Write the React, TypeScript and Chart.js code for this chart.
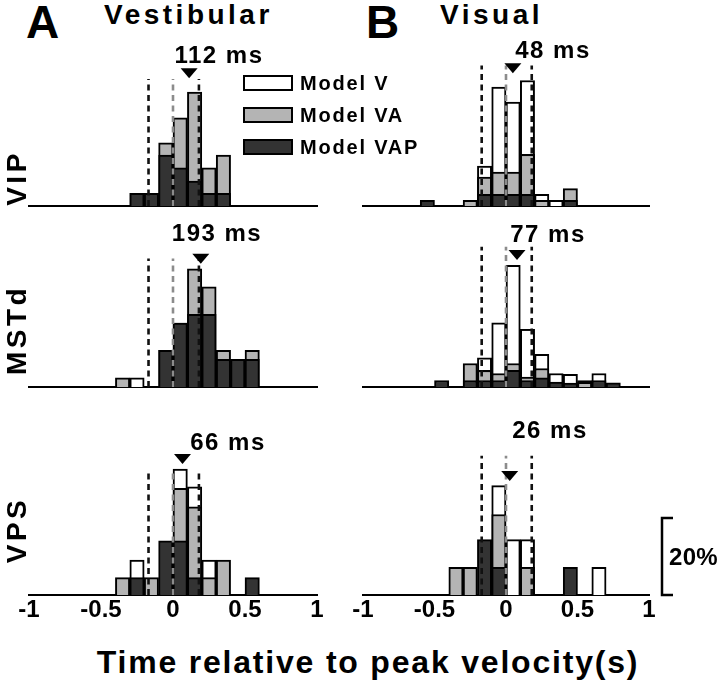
import React, { useEffect, useRef } from "react";
import { Chart, registerables } from "chart.js";
Chart.register(...registerables);

// ---------- data ----------
const BIN_CENTERS = [-0.95, -0.85, -0.75, -0.65, -0.55, -0.45, -0.35, -0.25, -0.15, -0.05, 0.05, 0.15, 0.25, 0.35, 0.45, 0.55, 0.65, 0.75, 0.85, 0.95];
const X_TICKS = [-1, -0.5, 0, 0.5, 1];
const SERIES_NAMES = ["Model V", "Model VA", "Model VAP"];
const COLUMN_TITLES = ["Vestibular", "Visual"];
const PANEL_LETTERS = ["A", "B"];
const AREA_NAMES = ["VIP", "MSTd", "VPS"];
const LATENCY_VEST_MS = [112, 193, 66];
const LATENCY_VIS_MS = [48, 77, 26];
const BOUNDARIES = [-0.17, 0, 0.18];
const SCALE_BAR_PCT = 20;
const X_TITLE = "Time relative to peak velocity(s)";
const _ = null;

// Vestibular column (percent of neurons per 100 ms bin)
const VIP_VEST_V = [_, _, _, _, _, _, _, _, _, _, _, _, _, _, _, _, _, _, _, _];
const VIP_VEST_VA = [_, _, _, _, _, _, _, 3.3, 3.3, 16.4, 22.9, 29.6, 9.9, 13.2, _, _, _, _, _, _];
const VIP_VEST_VAP = [_, _, _, _, _, _, _, 3.3, 3.3, 13.2, 9.9, 6.5, 3.3, 3.3, _, _, _, _, _, _];

const MSTD_VEST_V = [_, _, _, _, _, _, _, 2.4, _, _, _, _, _, _, _, _, _, _, _, _];
const MSTD_VEST_VA = [_, _, _, _, _, _, 2.4, _, _, 9.5, 16.6, 30.7, 26.0, 9.5, 7.2, 9.5, _, _, _, _];
const MSTD_VEST_VAP = [_, _, _, _, _, _, _, _, _, 9.5, 16.6, 18.9, 18.9, 7.2, 7.2, 7.2, _, _, _, _];

const VPS_VEST_V = [_, _, _, _, _, _, _, 9.1, _, _, 32.7, 28.1, 9.1, _, _, _, _, _, _, _];
const VPS_VEST_VA = [_, _, _, _, _, _, 4.5, _, 4.5, _, 27.7, 22.9, 4.5, 9.1, _, _, _, _, _, _];
const VPS_VEST_VAP = [_, _, _, _, _, _, _, 4.5, _, 14.1, 14.1, 4.5, _, _, _, 4.5, _, _, _, _];

// Visual column
const VIP_VIS_V = [_, _, _, _, _, _, _, _, 10.4, 30.9, 27.0, 32.6, 3.0, 1.5, _, _, _, _, _, _];
const VIP_VIS_VA = [_, _, _, _, _, _, _, 1.5, 7.5, 8.8, 8.8, 13.4, 1.5, _, 4.5, _, _, _, _, _];
const VIP_VIS_VAP = [_, _, _, _, 1.5, _, _, _, 3.0, 3.0, 3.0, 3.0, _, _, 1.5, _, _, _, _, _];

const MSTD_VIS_V = [_, _, _, _, _, _, _, _, 7.6, 16.7, 31.6, 15.0, 8.5, 3.5, 3.3, 1.7, 3.5, _, _, _];
const MSTD_VIS_VA = [_, _, _, _, _, _, _, 6.1, 4.3, 3.5, 6.1, 2.6, 4.8, _, _, 1.2, _, _, _, _];
const MSTD_VIS_VAP = [_, _, _, _, _, 1.7, _, 1.7, 1.7, 1.7, 4.3, 1.7, 2.4, 1.3, 1.0, _, 1.7, 1.1, _, _];

const VPS_VIS_V = [_, _, _, _, _, _, _, _, _, 28.4, 14.4, 14.4, _, _, _, _, 7.2, _, _, _];
const VPS_VIS_VA = [_, _, _, _, _, _, 7.2, 7.2, _, 20.9, _, 7.2, _, _, _, _, _, _, _, _];
const VPS_VIS_VAP = [_, _, _, _, _, _, _, _, 14.4, 7.2, _, _, _, _, 7.2, _, _, _, _, _];

// ---------- layout / style ----------
const FONT = '"Liberation Sans", Arial, Helvetica, sans-serif';
const PX_PER_PCT = 3.85;
const AREA_H = 150;
const AXIS_H = 30;
const PAD = 30;
const COLS = [
  { left: 29.3, width: 288 },
  { left: 362.7, width: 286 },
];
const BASELINES = [206, 387, 595];
const COLORS = { V: "#ffffff", VA: "#b4b4b4", VAP: "#333333" };

type PanelCfg = {
  row: number;
  col: number;
  v: (number | null)[];
  va: (number | null)[];
  vap: (number | null)[];
  latency: number;
  markerTip: number;
  lineTop: number;
  scaleBar?: boolean;
};

const PANELS: PanelCfg[] = [
  { row: 0, col: 0, v: VIP_VEST_V, va: VIP_VEST_VA, vap: VIP_VEST_VAP, latency: LATENCY_VEST_MS[0], markerTip: 33.2, lineTop: 33 },
  { row: 1, col: 0, v: MSTD_VEST_V, va: MSTD_VEST_VA, vap: MSTD_VEST_VAP, latency: LATENCY_VEST_MS[1], markerTip: 32, lineTop: 33.4 },
  { row: 2, col: 0, v: VPS_VEST_V, va: VPS_VEST_VA, vap: VPS_VEST_VAP, latency: LATENCY_VEST_MS[2], markerTip: 34, lineTop: 32.7 },
  { row: 0, col: 1, v: VIP_VIS_V, va: VIP_VIS_VA, vap: VIP_VIS_VAP, latency: LATENCY_VIS_MS[0], markerTip: 34.5, lineTop: 36.5 },
  { row: 1, col: 1, v: MSTD_VIS_V, va: MSTD_VIS_VA, vap: MSTD_VIS_VAP, latency: LATENCY_VIS_MS[1], markerTip: 33, lineTop: 36.4 },
  { row: 2, col: 1, v: VPS_VIS_V, va: VPS_VIS_VA, vap: VPS_VIS_VAP, latency: LATENCY_VIS_MS[2], markerTip: 29.6, lineTop: 36.2, scaleBar: true },
];

const overlayPlugin = {
  id: "overlay",
  afterDatasetsDraw(chart: any, _args: any, opts: any) {
    const { ctx } = chart;
    const x = chart.scales.x;
    const y = chart.scales.y;
    ctx.save();
    BOUNDARIES.forEach((b, i) => {
      ctx.strokeStyle = i === 1 ? "#8c8c8c" : "#111111";
      ctx.lineWidth = 2.6;
      ctx.setLineDash([6, 4.5]);
      const px = x.getPixelForValue(b);
      ctx.beginPath();
      ctx.moveTo(px, y.getPixelForValue(0));
      ctx.lineTo(px, y.getPixelForValue(opts.lineTop));
      ctx.stroke();
    });
    ctx.setLineDash([]);
    const tx = x.getPixelForValue(opts.latency / 1000);
    const ty = y.getPixelForValue(opts.markerTip);
    ctx.fillStyle = "#000";
    ctx.beginPath();
    ctx.moveTo(tx, ty);
    ctx.lineTo(tx - 8.5, ty - 10);
    ctx.lineTo(tx + 8.5, ty - 10);
    ctx.closePath();
    ctx.fill();
    if (opts.scaleBar) {
      const bx = chart.chartArea.right + 13;
      const y0 = y.getPixelForValue(0);
      const y1 = y.getPixelForValue(SCALE_BAR_PCT);
      ctx.strokeStyle = "#000";
      ctx.lineWidth = 2.5;
      ctx.beginPath();
      ctx.moveTo(bx + 11, y1);
      ctx.lineTo(bx, y1);
      ctx.lineTo(bx, y0);
      ctx.lineTo(bx + 11, y0);
      ctx.stroke();
    }
    ctx.restore();
  },
};

function toXY(arr: (number | null)[]) {
  return BIN_CENTERS.map((x, i) => ({ x, y: arr[i] }));
}

function Panel({ cfg }: { cfg: PanelCfg }) {
  const ref = useRef<HTMLCanvasElement | null>(null);
  const col = COLS[cfg.col];
  const w = col.width + PAD * 2;
  const h = AREA_H + AXIS_H;
  const left = col.left - PAD;
  const top = BASELINES[cfg.row] - AREA_H;
  const isBottom = cfg.row === 2;
  useEffect(() => {
    const common = {
      borderColor: "#000",
      borderWidth: 2,
      grouped: false,
      barPercentage: 1,
      categoryPercentage: 1,
      borderSkipped: "start",
    };
    const chart = new Chart(ref.current as HTMLCanvasElement, {
      type: "bar",
      data: {
        datasets: [
          { ...common, label: SERIES_NAMES[2], data: toXY(cfg.vap), backgroundColor: COLORS.VAP } as any,
          { ...common, label: SERIES_NAMES[1], data: toXY(cfg.va), backgroundColor: COLORS.VA } as any,
          { ...common, label: SERIES_NAMES[0], data: toXY(cfg.v), backgroundColor: COLORS.V } as any,
        ],
      },
      options: {
        responsive: false,
        animation: false,
        devicePixelRatio: 1,
        layout: { padding: { left: PAD, right: PAD, top: 0, bottom: 0 } },
        plugins: {
          legend: { display: false },
          tooltip: { enabled: false },
          overlay: { latency: cfg.latency, markerTip: cfg.markerTip, lineTop: cfg.lineTop, scaleBar: !!cfg.scaleBar },
        } as any,
        scales: {
          x: {
            type: "linear",
            min: -1,
            max: 1,
            offset: false,
            grid: { display: false, drawTicks: false },
            border: { display: true, color: "#000", width: 2 },
            afterBuildTicks: (s: any) => {
              s.ticks = X_TICKS.map((v) => ({ value: v }));
            },
            afterFit: (s: any) => {
              s.height = AXIS_H;
              s.paddingLeft = 0;
              s.paddingRight = 0;
            },
            ticks: {
              display: isBottom,
              padding: 1,
              color: "#000",
              maxRotation: 0,
              autoSkip: false,
              font: { family: FONT, size: 24, weight: "bold" },
              callback: (v: any) => String(Number(v)),
            },
          },
          y: { display: false, min: 0, max: AREA_H / PX_PER_PCT, stacked: false },
        },
      } as any,
      plugins: [overlayPlugin as any],
    });
    return () => chart.destroy();
  }, []);
  return (
    <canvas
      ref={ref}
      width={w}
      height={h}
      style={{ position: "absolute", left, top, width: w, height: h }}
    />
  );
}

const txt = (extra: React.CSSProperties): React.CSSProperties => ({
  position: "absolute",
  fontFamily: FONT,
  fontWeight: "bold",
  color: "#000",
  lineHeight: 1,
  whiteSpace: "nowrap",
  ...extra,
});

const MS_LABEL_POS = [
  [{ x: 219, y: 55 }, { x: 553, y: 50 }],
  [{ x: 217, y: 233 }, { x: 548, y: 234 }],
  [{ x: 228, y: 442 }, { x: 550, y: 430 }],
];
const ROW_LABEL_Y = [178, 330, 530];
const LEGEND_TOPS = [75, 107, 139];

export default function App() {
  const latencies = [LATENCY_VEST_MS, LATENCY_VIS_MS];
  return (
    <div style={{ position: "absolute", left: 0, top: 0, width: 720, height: 681, background: "#fff", overflow: "hidden" }}>
      {PANELS.map((p, i) => (
        <Panel key={i} cfg={p} />
      ))}
      <div style={txt({ left: 26, top: -1, fontSize: 46 })}>{PANEL_LETTERS[0]}</div>
      <div style={txt({ left: 104, top: 1, fontSize: 28, letterSpacing: 3.5 })}>{COLUMN_TITLES[0]}</div>
      <div style={txt({ left: 366, top: -1, fontSize: 46 })}>{PANEL_LETTERS[1]}</div>
      <div style={txt({ left: 440, top: 1, fontSize: 28, letterSpacing: 3.5 })}>{COLUMN_TITLES[1]}</div>
      {AREA_NAMES.map((n, i) => (
        <div
          key={n}
          style={txt({
            left: 17,
            top: ROW_LABEL_Y[i],
            fontSize: 28,
            letterSpacing: 3.5,
            transform: "translate(-50%, -50%) rotate(-90deg)",
          })}
        >
          {n}
        </div>
      ))}
      {MS_LABEL_POS.map((row, r) =>
        row.map((pos, c) => (
          <div
            key={`${r}-${c}`}
            style={txt({ left: pos.x, top: pos.y, fontSize: 24, letterSpacing: 1.5, transform: "translate(-50%, -50%)" })}
          >
            {`${latencies[c][r]} ms`}
          </div>
        ))
      )}
      {SERIES_NAMES.map((n, i) => (
        <React.Fragment key={n}>
          <div
            style={{
              position: "absolute",
              left: 243,
              top: LEGEND_TOPS[i],
              width: 50,
              height: 16,
              boxSizing: "border-box",
              border: "2.5px solid #000",
              background: [COLORS.V, COLORS.VA, COLORS.VAP][i],
            }}
          />
          <div style={txt({ left: 300, top: LEGEND_TOPS[i] + 8, fontSize: 20, letterSpacing: 1.8, transform: "translateY(-50%)" })}>{n}</div>
        </React.Fragment>
      ))}
      <div style={txt({ left: 669, top: 557, fontSize: 24, letterSpacing: 0.3, transform: "translateY(-50%)" })}>{`${SCALE_BAR_PCT}%`}</div>
      <div style={txt({ left: 368, top: 662, fontSize: 32, letterSpacing: 1.8, transform: "translate(-50%, -50%)" })}>{X_TITLE}</div>
    </div>
  );
}
